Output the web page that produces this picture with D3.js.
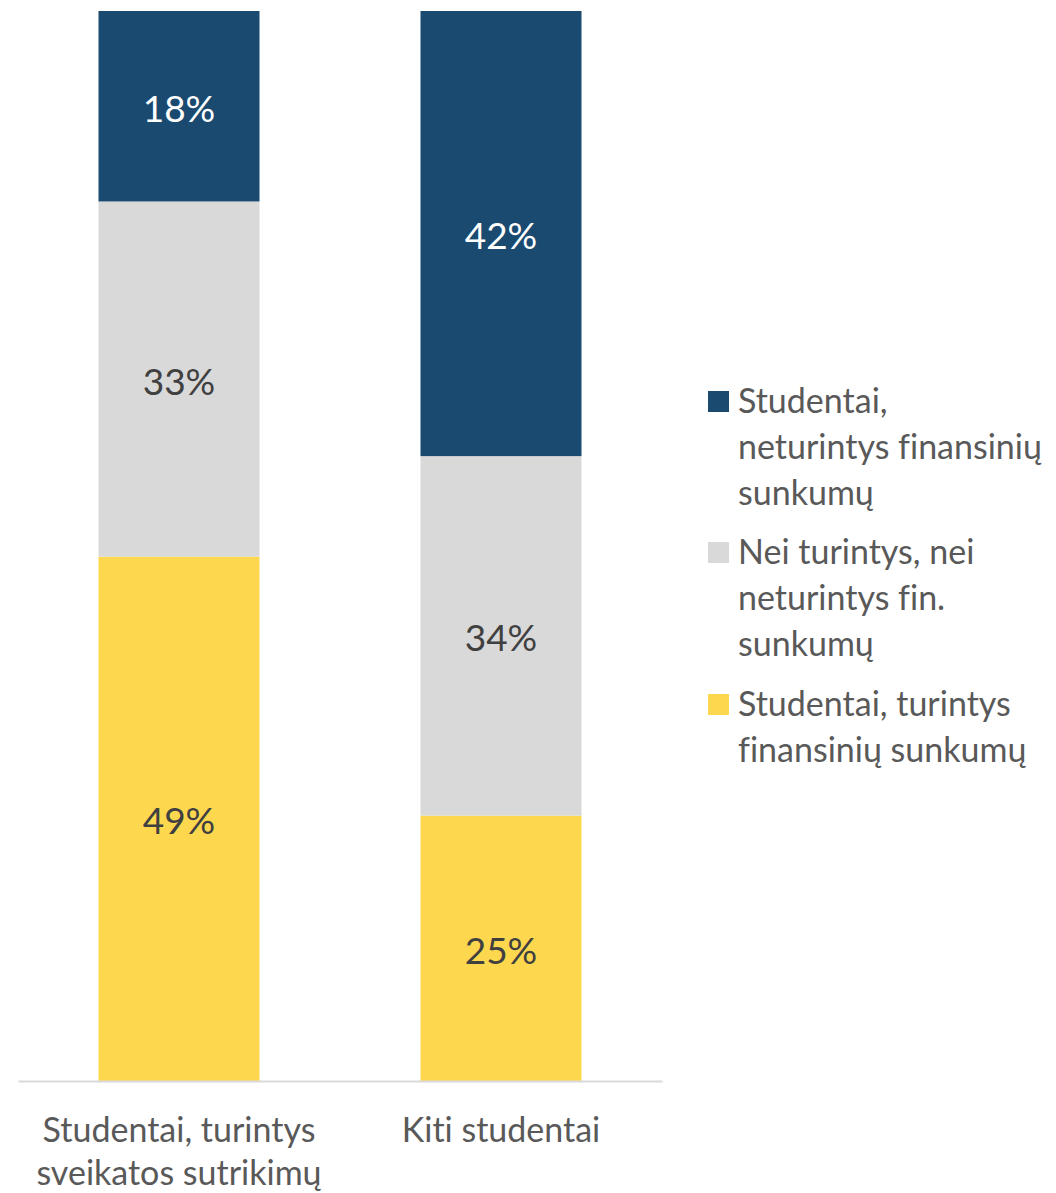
<!DOCTYPE html>
<html><head><meta charset="utf-8">
<script src="https://cdn.jsdelivr.net/npm/d3@7"></script>
<style>body{margin:0;background:#fff}svg{display:block}text{font-variant-ligatures:none;font-feature-settings:"liga" 0,"clig" 0}</style>
</head><body><svg id="c" width="1056" height="1193"></svg>
<script>
const categories = [["Studentai, turintys","sveikatos sutrikimų"],["Kiti studentai"]];
const seriesNames = [["Studentai, turintys","finansinių sunkumų"],["Nei turintys, nei","neturintys fin.","sunkumų"],["Studentai,","neturintys finansinių","sunkumų"]];
const yellowValues = [0.490, 0.248];
const grayValues = [0.332, 0.336];
const blueValues = [0.178, 0.416];
const colors = ["#fdd84f","#d9d9d9","#1b4a70"];
const labelColors = ["#404040","#404040","#ffffff"];
const FONT = "Lato, 'Open Sans', sans-serif";

const svg = d3.select("#c");
const x = d3.scaleBand().domain(d3.range(categories.length)).range([18,662]).paddingInner(0.5).paddingOuter(0.25);
const y = d3.scaleLinear().domain([0,1]).range([1081,11]);

const rows = categories.map((c,i)=>({i, s0:yellowValues[i], s1:grayValues[i], s2:blueValues[i]}));
const stack = d3.stack().keys(["s0","s1","s2"])(rows);

const g = svg.append("g");
stack.forEach((layer,k)=>{
  g.selectAll(null).data(layer).enter().append("rect")
    .attr("x",d=>x(d.data.i)).attr("width",x.bandwidth())
    .attr("y",d=>y(d[1])).attr("height",d=>y(d[0])-y(d[1]))
    .attr("fill",colors[k]);
  g.selectAll(null).data(layer).enter().append("text")
    .attr("x",d=>x(d.data.i)+x.bandwidth()/2)
    .attr("y",d=>(y(d[0])+y(d[1]))/2)
    .attr("dy","0.42em")
    .attr("text-anchor","middle")
    .attr("font-family",FONT).attr("font-size",37)
    .attr("fill",labelColors[k])
    .text(d=>Math.round((d[1]-d[0])*100)+"%");
});

// axis
const ax = svg.append("g").attr("transform","translate(0,1081)").call(d3.axisBottom(x).tickSize(0).tickFormat(""));
ax.select(".domain").attr("stroke","#d9d9d9").attr("stroke-width",2);
categories.forEach((lines,i)=>{
  const t = svg.append("text").attr("text-anchor","middle").attr("font-family",FONT).attr("font-size",34).attr("fill","#595959");
  lines.forEach((l,j)=>t.append("tspan").attr("x",x(i)+x.bandwidth()/2).attr("y",1142+j*43).text(l));
});

// legend (top to bottom: blue, gray, yellow)
const legendOrder = [2,1,0];
const legendTop = [391,542,694];
legendOrder.forEach((k,n)=>{
  svg.append("rect").attr("x",708).attr("y",legendTop[n]).attr("width",21).attr("height",21).attr("fill",colors[k]);
  const t = svg.append("text").attr("font-family",FONT).attr("font-size",34).attr("fill","#595959");
  seriesNames[k].forEach((l,j)=>t.append("tspan").attr("x",738).attr("y",legendTop[n]+22+j*46).text(l));
});
</script></body></html>
